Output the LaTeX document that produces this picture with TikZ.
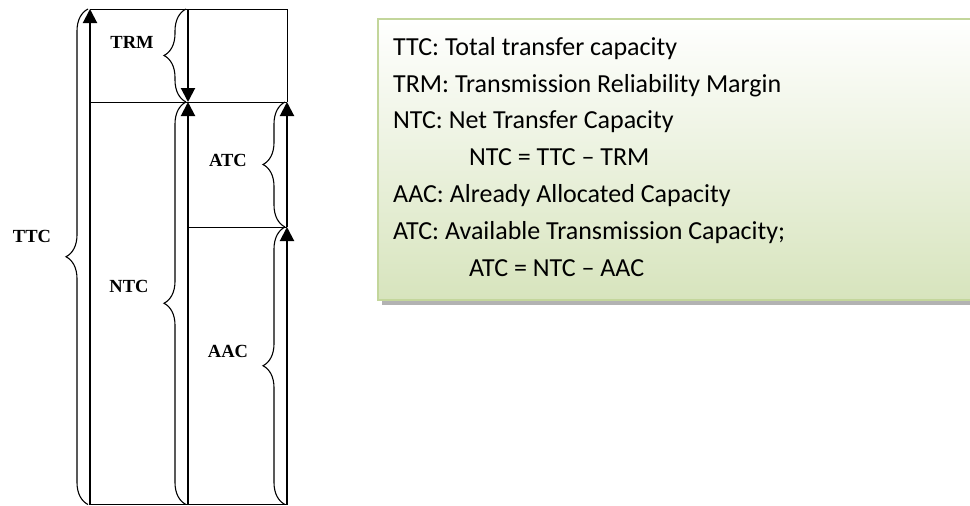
\documentclass[tikz,border=0pt]{standalone}
\usepackage{fontspec}
\setmainfont{Liberation Serif}
\newfontfamily\legendfont{Carlito}
\usetikzlibrary{arrows.meta,decorations.pathreplacing,shadows}
\definecolor{legend-green}{HTML}{D7E4BD}
\definecolor{legend-rule}{HTML}{C3D69B}
\tikzset{
    frame-line/.style = {draw=black, line width=1pt},
    cap-arrow/.style = {draw=black, line width=2pt, -{Triangle[width=14pt,length=14pt]}},
    cap-brace/.style = {draw=black, line width=1.1pt, decorate, decoration={brace, amplitude=22pt}},
    cap-label/.style = {font=\fontsize{18.5}{20}\selectfont\bfseries, inner sep=0pt},
    legend-box/.style = {draw=legend-rule, line width=2pt, top color=white, bottom color=legend-green, drop shadow={shadow xshift=4pt, shadow yshift=-5pt, fill=gray!60, opacity=1}},
    legend-text/.style = {font=\legendfont\fontsize{26}{36.9}\selectfont, align=left, inner sep=0pt},
}

\begin{document}
\begin{tikzpicture}[x=1pt, y=-1pt]
\useasboundingbox (0,0) rectangle (970,506);

% grid of the capacity columns
\coordinate (top-left) at (90,9);
\coordinate (top-mid) at (188,9);
\coordinate (top-right) at (287,9);
\coordinate (mid-left) at (90,102);
\coordinate (mid-mid) at (188,102);
\coordinate (mid-right) at (287,102);
\coordinate (low-mid) at (188,227);
\coordinate (low-right) at (287,227);
\coordinate (bot-left) at (90,504.5);
\coordinate (bot-mid) at (188,504.5);
\coordinate (bot-right) at (287,504.5);

\draw [frame-line] (top-left) -- (top-right) -- (mid-right);
\draw [frame-line] (mid-left) -- (mid-right);
\draw [frame-line] (low-mid) -- (low-right);
\draw [frame-line, line width=1.6pt] (bot-left) -- (bot-right);

\draw [cap-arrow] (bot-left) -- (top-left);
\draw [cap-arrow] (top-mid) -- (mid-mid);
\draw [cap-arrow] (bot-mid) -- (mid-mid);
\draw [cap-arrow] (low-right) -- (mid-right);
\draw [cap-arrow] (bot-right) -- (low-right);

\draw [cap-brace] ([xshift=-2pt]bot-left) -- ([xshift=-2pt]top-left);
\draw [cap-brace] ([xshift=-2pt]mid-mid) -- ([xshift=-2pt]top-mid);
\draw [cap-brace] ([xshift=-2pt]bot-mid) -- ([xshift=-2pt]mid-mid);
\draw [cap-brace] ([xshift=-2pt]low-right) -- ([xshift=-2pt]mid-right);
\draw [cap-brace] ([xshift=-2pt]bot-right) -- ([xshift=-2pt]low-right);

\node [cap-label] (ttc) at (32,236) {TTC};
\node [cap-label] (trm) at (132,42) {TRM};
\node [cap-label] (ntc) at (129,286) {NTC};
\node [cap-label] (atc) at (228,160) {ATC};
\node [cap-label] (aac) at (228,351) {AAC};

% legend
\node [legend-box, anchor=north west, minimum width=610pt, minimum height=281pt] (legend) at (377,18) {};
\node [legend-text, anchor=base west] (defs) at (393,276.5) {TTC: Total transfer capacity\\
TRM: Transmission Reliability Margin\\
NTC: Net Transfer Capacity\\
\hspace*{76pt}NTC = TTC \textendash{} TRM\\
AAC: Already Allocated Capacity\\
ATC: Available Transmission Capacity;\\
\hspace*{76pt}ATC = NTC \textendash{} AAC};
\end{tikzpicture}
\end{document}
